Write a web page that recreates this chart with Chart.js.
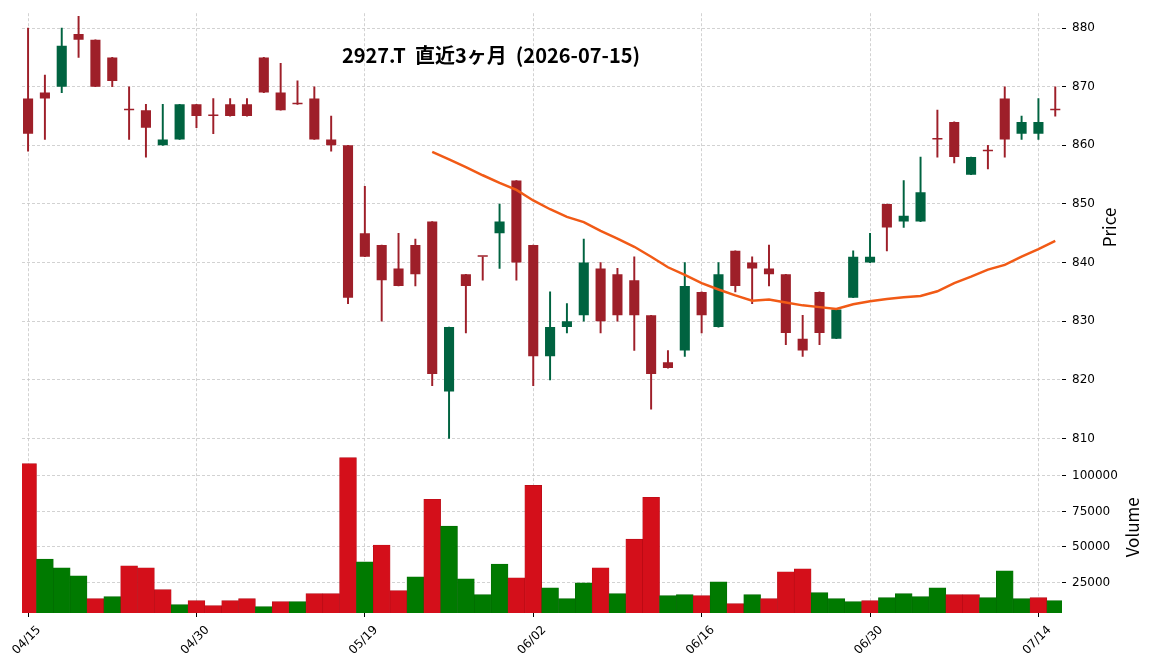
<!DOCTYPE html>
<html>
<head>
<meta charset="utf-8">
<script src="https://cdn.jsdelivr.net/npm/chart.js@4.4.0/dist/chart.umd.min.js"></script>
<style>
    html, body { margin: 0; padding: 0; background: #fff; }
</style>
</head>
<body>
<canvas id="chart" width="1152" height="670"></canvas>
<script>
// trading days shown on the x axis (index = position)
const dates = ['04/15','04/16','04/17','04/20','04/21','04/22','04/23','04/24','04/27','04/28',
    '04/30','05/01','05/07','05/08','05/11','05/12','05/13','05/14','05/15','05/18',
    '05/19','05/20','05/21','05/22','05/25','05/26','05/27','05/28','05/29','06/01',
    '06/02','06/03','06/04','06/05','06/08','06/09','06/10','06/11','06/12','06/15',
    '06/16','06/17','06/18','06/19','06/22','06/23','06/24','06/25','06/26','06/29',
    '06/30','07/01','07/02','07/03','07/06','07/07','07/08','07/09','07/10','07/13',
    '07/14','07/15'];

const opens  = [868,869,870,879,878,875,866,866,860,861, 867,865,867,867,875,869,867,868,861,860,
    845,843,839,843,847,818,838,841,845,854, 843,824,829,831,839,838,837,831,823,825,
    835,829,842,840,839,838,827,835,827,834, 840,850,847,847,861,864,855,859,868,862, 862,866];
const highs  = [880,872,880,882,878,875,870,867,867,867, 867,868,868,868,875,874,871,870,865,860,
    853,843,845,844,847,829,838,841,850,854, 843,835,833,844,840,839,841,831,825,840,
    835,840,842,841,843,838,831,835,832,842, 845,850,854,858,866,864,858,860,870,865, 868,870];
const lows   = [859,861,869,875,870,870,861,858,860,861, 863,862,865,865,869,866,867,861,859,833,
    841,830,836,836,819,810,828,837,839,837, 819,820,828,830,828,830,825,815,822,824,
    828,829,835,833,836,826,824,826,827,834, 840,842,846,847,858,857,855,856,858,861, 861,865];
const closes = [862,868,877,878,870,871,866,863,861,867, 865,865,865,865,869,866,867,861,860,834,
    841,837,836,838,821,829,836,841,847,840, 824,829,830,840,830,831,831,821,822,836,
    831,838,836,839,838,828,825,828,832,841, 841,846,848,852,861,858,858,859,861,864, 864,866];

const volumes = [108600,41500,35300,29700,13600,15000,36700,35300,19900,9400,
    12200,8700,12200,13600,8000,11500,11500,17100,17100,112800,
    39500,51300,19200,29000,83500,64600,27600,16400,38000,28300,
    93300,21300,13600,24800,35300,17100,55500,84900,15700,16400,
    15700,25500,10100,16400,13600,32500,34600,17800,13600,11500,
    12200,14300,17100,15000,21300,16400,16400,14300,33200,13600,
    14300,12200];

// 25 day moving average as drawn (no value for the first 24 days)
const ma25 = [null,null,null,null,null,null,null,null,null,null,
    null,null,null,null,null,null,null,null,null,null,
    null,null,null,null,858.9,857.6,856.3,854.9,853.6,852.4,
    850.6,849.1,847.8,846.9,845.4,844.1,842.7,841.0,839.2,837.9,
    836.5,835.4,834.4,833.5,833.7,833.2,832.7,832.4,832.1,832.9,
    833.4,833.8,834.1,834.3,835.1,836.5,837.6,838.8,839.6,841.0,
    842.3,843.7];

const xTicks = [0, 10, 20, 30, 40, 50, 60];
const priceTicks = [810, 820, 830, 840, 850, 860, 870, 880];
const volumeTicks = [25000, 50000, 75000, 100000];

const chartTitle = '2927.T  直近3ヶ月  (2026-07-15)';
const priceLabel = 'Price';
const volumeLabel = 'Volume';

const upColor = '#006340';
const downColor = '#9e1f29';
const volUp = '#007a00';
const volDown = '#d40f1a';

const candleColors = opens.map((o, i) => closes[i] > o ? upColor : downColor);
const volumeColors = closes.map((c, i) => i > 0 && c > closes[i - 1] ? volUp : volDown);
const volumeEdges = closes.map((c, i) => i > 0 && c > closes[i - 1] ? '#006800' : '#b50c16');

const tickFont = { family: 'DejaVu Sans', size: 12 };

function gridOpts() {
    return { color: '#c6c6c6', lineWidth: 0.8, offset: false, tickColor: '#000', tickLength: 4, tickWidth: 1, tickBorderDash: [] };
}

const textPlugin = {
    id: 'texts',
    afterDraw(chart) {
        const ctx = chart.ctx;
        const yP = chart.scales.y;
        const yV = chart.scales.v;
        ctx.save();
        ctx.fillStyle = '#000';
        ctx.textAlign = 'center';
        ctx.textBaseline = 'middle';
        ctx.font = 'bold 20px "Noto Sans CJK JP"';
        ctx.fillText(chartTitle, 491, 55);
        ctx.font = '17px "Noto Sans CJK JP"';
        [[priceLabel, 1110, (yP.top + yP.bottom) / 2], [volumeLabel, 1133, (yV.top + yV.bottom) / 2]].forEach(([t, x, y]) => {
            ctx.save();
            ctx.translate(x, y);
            ctx.rotate(-Math.PI / 2);
            ctx.fillText(t, 0, 0);
            ctx.restore();
        });
        ctx.restore();
    }
};

const ctx = document.getElementById('chart').getContext('2d');
new Chart(ctx, {
    type: 'bar',
    data: {
        datasets: [
            {
                type: 'line',
                data: ma25.map((v, i) => ({ x: i, y: v })),
                borderColor: '#f15a16',
                borderWidth: 2.5,
                pointRadius: 0,
                yAxisID: 'y',
                order: 0
            },
            {
                data: opens.map((o, i) => ({ x: i, y: [o, closes[i]] })),
                backgroundColor: candleColors,
                barPercentage: 0.6,
                categoryPercentage: 1,
                minBarLength: 1.5,
                grouped: false,
                yAxisID: 'y',
                order: 1
            },
            {
                data: lows.map((l, i) => ({ x: i, y: [l, highs[i]] })),
                backgroundColor: candleColors,
                barThickness: 1.3,
                grouped: false,
                yAxisID: 'y',
                order: 2
            },
            {
                data: volumes.map((v, i) => ({ x: i, y: v })),
                backgroundColor: volumeColors,
                borderColor: volumeEdges,
                borderWidth: 0.6,
                barPercentage: 1,
                categoryPercentage: 1,
                grouped: false,
                yAxisID: 'v',
                order: 3
            }
        ]
    },
    options: {
        responsive: false,
        animation: false,
        layout: { padding: { left: 22, top: 11, right: 0, bottom: 0 } },
        plugins: { legend: { display: false }, tooltip: { enabled: false } },
        scales: {
            x: {
                type: 'linear',
                min: -0.36,
                max: 61.4,
                offset: false,
                afterBuildTicks: s => { s.ticks = xTicks.map(v => ({ value: v })); },
                afterFit: s => { s.height = 57; s.paddingLeft = 0; s.paddingRight = 0; },
                ticks: {
                    autoSkip: false, minRotation: 45, maxRotation: 45,
                    labelOffset: 11, padding: 6, color: '#000', font: tickFont,
                    callback: v => dates[v]
                },
                grid: gridOpts(),
                border: { display: false, dash: [3, 2] }
            },
            y: {
                position: 'right',
                stack: 'panels',
                stackWeight: 430,
                min: 809.45,
                max: 882.55,
                beginAtZero: false,
                afterBuildTicks: s => { s.ticks = priceTicks.map(v => ({ value: v })); },
                afterFit: s => { s.width = 90; },
                ticks: { color: '#000', font: tickFont, padding: 6, callback: v => String(v) },
                grid: gridOpts(),
                border: { display: false, dash: [3, 2] }
            },
            v: {
                position: 'right',
                stack: 'panels',
                stackWeight: 172,
                min: 3500,
                max: 124100,
                beginAtZero: false,
                afterBuildTicks: s => { s.ticks = volumeTicks.map(v => ({ value: v })); },
                afterFit: s => { s.width = 90; },
                ticks: { color: '#000', font: tickFont, padding: 6, callback: v => String(v) },
                grid: gridOpts(),
                border: { display: false, dash: [3, 2] }
            }
        }
    },
    plugins: [textPlugin]
});
</script>
</body>
</html>
